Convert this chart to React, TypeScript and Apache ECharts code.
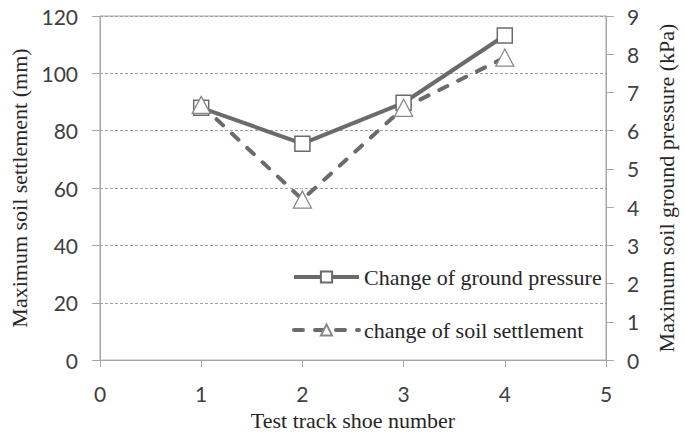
import React, { useEffect, useRef } from "react";
import * as echarts from "echarts";

const shoeNumbers = [1, 2, 3, 4];
const groundPressure = [6.6, 5.66, 6.73, 8.49]; // kPa, right axis
const soilSettlement = [89, 56, 88, 105.5]; // mm, left axis
const xTicks = [0, 1, 2, 3, 4, 5];
const leftTicks = [0, 20, 40, 60, 80, 100, 120];
const rightTicks = [0, 1, 2, 3, 4, 5, 6, 7, 8, 9];

const seriesNames = ["Change of ground pressure", "change of soil settlement"];
const axisTitles = {
  x: "Test track shoe number",
  left: "Maximum soil settlement (mm)",
  right: "Maximum soil ground pressure (kPa)",
};

const LINE = "#6b6b6b";
const AXIS = "#a6a6a6";
const SERIF = "'Liberation Serif', 'Times New Roman', serif";
const SANS = "Lato, 'Open Sans', sans-serif";

export default function App() {
  const ref = useRef<HTMLDivElement>(null);
  useEffect(() => {
    document.body.style.margin = "0";
    document.body.style.overflow = "hidden";
    document.documentElement.style.overflow = "hidden";
    if (!ref.current) return;
    const chart = echarts.init(ref.current, null, { renderer: "svg" });
    const tickLabel = { fontFamily: SANS, fontSize: 21, color: "#404040" };
    chart.setOption({
      animation: false,
      backgroundColor: "#fff",
      grid: {
        left: 100,
        right: 68,
        top: 16,
        bottom: 70,
        containLabel: false,
        show: true,
        borderColor: AXIS,
        borderWidth: 1,
      },
      legend: {
        orient: "vertical",
        left: 292,
        top: 265,
        padding: 0,
        itemWidth: 65,
        itemHeight: 14,
        itemGap: 29,
        data: seriesNames,
        lineStyle: { width: 4 },
        textStyle: {
          fontFamily: SERIF,
          fontSize: 22,
          lineHeight: 24,
          color: "#262626",
        },
      },
      xAxis: {
        type: "value",
        min: xTicks[0],
        max: xTicks[xTicks.length - 1],
        interval: 1,
        name: axisTitles.x,
        nameLocation: "middle",
        nameGap: 45,
        nameTextStyle: { fontFamily: SERIF, fontSize: 22, color: "#262626" },
        axisLine: { show: true, lineStyle: { color: AXIS, width: 1 } },
        axisTick: { show: true, length: 7, lineStyle: { color: AXIS } },
        axisLabel: { ...tickLabel, margin: 23 },
        splitLine: { show: false },
      },
      yAxis: [
        {
          type: "value",
          min: leftTicks[0],
          max: leftTicks[leftTicks.length - 1],
          interval: 20,
          name: axisTitles.left,
          nameLocation: "middle",
          nameGap: 69,
          nameTextStyle: { fontFamily: SERIF, fontSize: 22, color: "#262626" },
          axisLine: { show: true, lineStyle: { color: AXIS, width: 1 } },
          axisTick: { show: true, length: 8, lineStyle: { color: AXIS } },
          axisLabel: { ...tickLabel, margin: 22 },
          splitLine: {
            show: true,
            lineStyle: { color: "#a0a0a0", type: [3, 2], width: 1 },
          },
        },
        {
          type: "value",
          position: "right",
          min: rightTicks[0],
          max: rightTicks[rightTicks.length - 1],
          interval: 1,
          name: axisTitles.right,
          nameLocation: "middle",
          nameGap: 49,
          nameTextStyle: { fontFamily: SERIF, fontSize: 22, color: "#262626" },
          axisLine: { show: true, lineStyle: { color: AXIS, width: 1 } },
          axisTick: { show: true, length: 8, lineStyle: { color: AXIS } },
          axisLabel: { ...tickLabel, margin: 21 },
          splitLine: { show: false },
        },
      ],
      series: [
        {
          name: seriesNames[0],
          type: "line",
          yAxisIndex: 1,
          data: shoeNumbers.map((x, i) => [x, groundPressure[i]]),
          symbol: "rect",
          symbolSize: 15,
          lineStyle: { color: LINE, width: 4 },
          itemStyle: { color: "#fff", borderColor: LINE, borderWidth: 1.5 },
          color: LINE,
        },
        {
          name: seriesNames[1],
          type: "line",
          yAxisIndex: 0,
          data: shoeNumbers.map((x, i) => [x, soilSettlement[i]]),
          symbol: "triangle",
          symbolSize: [18, 17],
          lineStyle: { color: LINE, width: 4, type: [9, 12], cap: "round" },
          itemStyle: { color: "#fff", borderColor: "#888", borderWidth: 1.3 },
          color: LINE,
        },
      ],
    });
    return () => chart.dispose();
  }, []);
  return <div ref={ref} style={{ width: 685, height: 436 }} />;
}
